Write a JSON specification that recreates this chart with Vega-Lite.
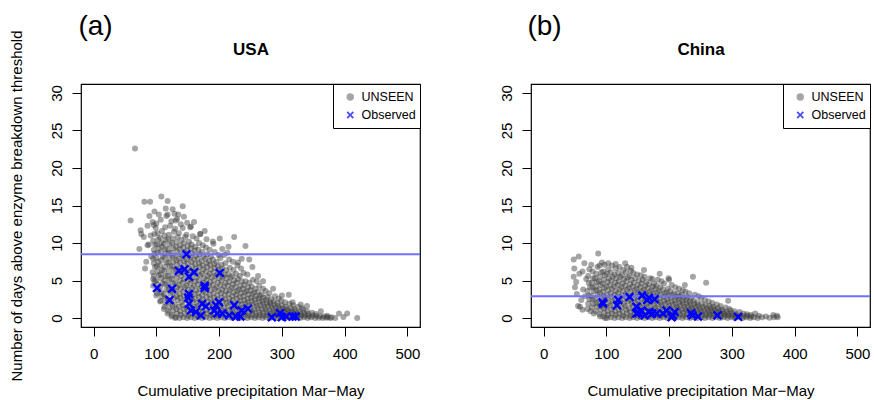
{
"$schema": "https://vega.github.io/schema/vega-lite/v6.json",
"background": "white",
"padding": {"left": 10, "top": 13, "right": 0, "bottom": 0},
"title": {"text": "Number of days above enzyme breakdown threshold", "orient": "left", "anchor": "middle", "fontSize": 15, "fontWeight": "normal", "offset": 23, "color": "black", "font": "Liberation Sans"},
"resolve": {"scale": {"color": "independent", "shape": "independent"}, "legend": {"color": "independent", "shape": "independent"}},
"config": {
 "font": "Liberation Sans",
 "view": {"stroke": "black", "strokeWidth": 1.2},
 "axis": {"grid": false, "domain": false, "tickColor": "black", "tickSize": 9, "tickWidth": 1, "labelFontSize": 15, "labelColor": "black", "titleFontSize": 15, "titleFontWeight": "normal", "titleColor": "black", "labelFlush": false, "labelOverlap": false},
 "axisX": {"labelPadding": 10, "titlePadding": 22},
 "axisY": {"labelPadding": 8, "labelAngle": -90},
 "legend": {"orient": "top-right", "offset": 0, "padding": 4, "strokeColor": "black", "fillColor": "white", "labelFontSize": 12.5, "labelColor": "black", "labelOffset": 5, "symbolOffset": 7, "clipHeight": 18, "rowPadding": 0, "symbolStrokeWidth": 0, "symbolSize": 55},
 "title": {"color": "black", "font": "Liberation Sans"},
 "concat": {"spacing": 76}
},
"datasets": {
 "usaSim": [
{"x":95,"UNSEEN":4.3},{"x":97,"UNSEEN":4.9},{"x":96,"UNSEEN":5.6},{"x":94,"UNSEEN":6.1},{"x":98,"UNSEEN":6.8},{"x":96,"UNSEEN":7.3},{"x":95,"UNSEEN":7.9},{"x":97,"UNSEEN":8.6},{"x":96,"UNSEEN":9.1},{"x":98,"UNSEEN":9.8},{"x":95,"UNSEEN":10.3},{"x":97,"UNSEEN":11.2},{"x":96,"UNSEEN":12.4},
{"x":101,"UNSEEN":3.3},{"x":103,"UNSEEN":3.8},{"x":102,"UNSEEN":4.5},{"x":100,"UNSEEN":5.0},{"x":104,"UNSEEN":5.7},{"x":102,"UNSEEN":6.2},{"x":101,"UNSEEN":6.9},{"x":103,"UNSEEN":7.5},{"x":100,"UNSEEN":8.0},{"x":102,"UNSEEN":8.7},{"x":104,"UNSEEN":9.3},{"x":101,"UNSEEN":9.8},{"x":103,"UNSEEN":10.5},{"x":102,"UNSEEN":11.3},{"x":100,"UNSEEN":12.6},
{"x":107,"UNSEEN":2.3},{"x":109,"UNSEEN":2.9},{"x":108,"UNSEEN":3.4},{"x":106,"UNSEEN":4.1},{"x":110,"UNSEEN":4.6},{"x":108,"UNSEEN":5.3},{"x":107,"UNSEEN":5.8},{"x":109,"UNSEEN":6.4},{"x":106,"UNSEEN":7.0},{"x":108,"UNSEEN":7.7},{"x":110,"UNSEEN":8.2},{"x":107,"UNSEEN":8.8},{"x":109,"UNSEEN":9.5},{"x":108,"UNSEEN":10.0},{"x":106,"UNSEEN":10.7},{"x":109,"UNSEEN":11.6},{"x":107,"UNSEEN":13.1},
{"x":113,"UNSEEN":1.5},{"x":115,"UNSEEN":2.0},{"x":114,"UNSEEN":2.7},{"x":112,"UNSEEN":3.2},{"x":116,"UNSEEN":3.8},{"x":114,"UNSEEN":4.5},{"x":113,"UNSEEN":5.0},{"x":115,"UNSEEN":5.6},{"x":112,"UNSEEN":6.3},{"x":114,"UNSEEN":6.8},{"x":116,"UNSEEN":7.4},{"x":113,"UNSEEN":8.1},{"x":115,"UNSEEN":8.6},{"x":114,"UNSEEN":9.2},{"x":112,"UNSEEN":9.9},{"x":115,"UNSEEN":10.4},{"x":113,"UNSEEN":11.0},{"x":114,"UNSEEN":12.1},{"x":116,"UNSEEN":13.6},
{"x":119,"UNSEEN":0.9},{"x":121,"UNSEEN":1.4},{"x":120,"UNSEEN":2.1},{"x":118,"UNSEEN":2.6},{"x":122,"UNSEEN":3.3},{"x":120,"UNSEEN":3.8},{"x":119,"UNSEEN":4.4},{"x":121,"UNSEEN":5.1},{"x":118,"UNSEEN":5.6},{"x":120,"UNSEEN":6.2},{"x":122,"UNSEEN":6.9},{"x":119,"UNSEEN":7.4},{"x":121,"UNSEEN":8.0},{"x":120,"UNSEEN":8.7},{"x":118,"UNSEEN":9.2},{"x":121,"UNSEEN":9.8},{"x":119,"UNSEEN":10.5},{"x":120,"UNSEEN":11.1},{"x":122,"UNSEEN":12.3},{"x":118,"UNSEEN":13.8},
{"x":125,"UNSEEN":0.4},{"x":127,"UNSEEN":1.0},{"x":126,"UNSEEN":1.6},{"x":124,"UNSEEN":2.2},{"x":128,"UNSEEN":2.7},{"x":126,"UNSEEN":3.4},{"x":125,"UNSEEN":3.9},{"x":127,"UNSEEN":4.6},{"x":124,"UNSEEN":5.2},{"x":126,"UNSEEN":5.7},{"x":128,"UNSEEN":6.4},{"x":125,"UNSEEN":6.9},{"x":127,"UNSEEN":7.5},{"x":126,"UNSEEN":8.2},{"x":124,"UNSEEN":8.7},{"x":127,"UNSEEN":9.3},{"x":125,"UNSEEN":10.0},{"x":126,"UNSEEN":10.6},{"x":128,"UNSEEN":11.5},{"x":124,"UNSEEN":12.9},
{"x":131,"UNSEEN":0.1},{"x":133,"UNSEEN":0.6},{"x":132,"UNSEEN":1.2},{"x":130,"UNSEEN":1.8},{"x":134,"UNSEEN":2.4},{"x":132,"UNSEEN":2.9},{"x":131,"UNSEEN":3.6},{"x":133,"UNSEEN":4.1},{"x":130,"UNSEEN":4.7},{"x":132,"UNSEEN":5.4},{"x":134,"UNSEEN":5.9},{"x":131,"UNSEEN":6.5},{"x":133,"UNSEEN":7.1},{"x":132,"UNSEEN":7.7},{"x":130,"UNSEEN":8.3},{"x":133,"UNSEEN":8.9},{"x":131,"UNSEEN":9.5},{"x":132,"UNSEEN":10.1},{"x":134,"UNSEEN":10.8},{"x":130,"UNSEEN":11.9},{"x":133,"UNSEEN":13.2},
{"x":137,"UNSEEN":0},{"x":139,"UNSEEN":0.4},{"x":138,"UNSEEN":0.9},{"x":136,"UNSEEN":1.5},{"x":140,"UNSEEN":2.1},{"x":138,"UNSEEN":2.7},{"x":137,"UNSEEN":3.2},{"x":139,"UNSEEN":3.9},{"x":136,"UNSEEN":4.4},{"x":138,"UNSEEN":5.0},{"x":140,"UNSEEN":5.6},{"x":137,"UNSEEN":6.2},{"x":139,"UNSEEN":6.7},{"x":138,"UNSEEN":7.4},{"x":136,"UNSEEN":7.9},{"x":139,"UNSEEN":8.5},{"x":137,"UNSEEN":9.2},{"x":138,"UNSEEN":9.7},{"x":140,"UNSEEN":10.4},{"x":136,"UNSEEN":11.3},{"x":139,"UNSEEN":12.5},
{"x":143,"UNSEEN":0.1},{"x":145,"UNSEEN":0.6},{"x":144,"UNSEEN":1.2},{"x":142,"UNSEEN":1.7},{"x":146,"UNSEEN":2.4},{"x":144,"UNSEEN":2.9},{"x":143,"UNSEEN":3.5},{"x":145,"UNSEEN":4.1},{"x":142,"UNSEEN":4.7},{"x":144,"UNSEEN":5.2},{"x":146,"UNSEEN":5.9},{"x":143,"UNSEEN":6.4},{"x":145,"UNSEEN":7.0},{"x":144,"UNSEEN":7.6},{"x":142,"UNSEEN":8.2},{"x":145,"UNSEEN":8.8},{"x":143,"UNSEEN":9.4},{"x":144,"UNSEEN":10.0},{"x":146,"UNSEEN":10.8},{"x":142,"UNSEEN":12.0},
{"x":149,"UNSEEN":0},{"x":151,"UNSEEN":0.3},{"x":150,"UNSEEN":0.9},{"x":148,"UNSEEN":1.4},{"x":152,"UNSEEN":2.0},{"x":150,"UNSEEN":2.6},{"x":149,"UNSEEN":3.1},{"x":151,"UNSEEN":3.8},{"x":148,"UNSEEN":4.3},{"x":150,"UNSEEN":4.9},{"x":152,"UNSEEN":5.5},{"x":149,"UNSEEN":6.1},{"x":151,"UNSEEN":6.6},{"x":150,"UNSEEN":7.3},{"x":148,"UNSEEN":7.8},{"x":151,"UNSEEN":8.4},{"x":149,"UNSEEN":9.0},{"x":150,"UNSEEN":9.6},{"x":152,"UNSEEN":10.2},{"x":148,"UNSEEN":11.1},
{"x":155,"UNSEEN":0.1},{"x":157,"UNSEEN":0.6},{"x":156,"UNSEEN":1.1},{"x":154,"UNSEEN":1.7},{"x":158,"UNSEEN":2.3},{"x":156,"UNSEEN":2.8},{"x":155,"UNSEEN":3.4},{"x":157,"UNSEEN":4.0},{"x":154,"UNSEEN":4.6},{"x":156,"UNSEEN":5.1},{"x":158,"UNSEEN":5.8},{"x":155,"UNSEEN":6.3},{"x":157,"UNSEEN":6.9},{"x":156,"UNSEEN":7.5},{"x":154,"UNSEEN":8.1},{"x":157,"UNSEEN":8.6},{"x":155,"UNSEEN":9.3},{"x":156,"UNSEEN":9.8},{"x":158,"UNSEEN":10.9},{"x":154,"UNSEEN":12.1},
{"x":161,"UNSEEN":0},{"x":163,"UNSEEN":0.4},{"x":162,"UNSEEN":0.9},{"x":160,"UNSEEN":1.5},{"x":164,"UNSEEN":2.0},{"x":162,"UNSEEN":2.6},{"x":161,"UNSEEN":3.2},{"x":163,"UNSEEN":3.7},{"x":160,"UNSEEN":4.3},{"x":162,"UNSEEN":4.9},{"x":164,"UNSEEN":5.4},{"x":161,"UNSEEN":6.1},{"x":163,"UNSEEN":6.6},{"x":162,"UNSEEN":7.2},{"x":160,"UNSEEN":7.8},{"x":163,"UNSEEN":8.3},{"x":161,"UNSEEN":9.0},{"x":162,"UNSEEN":9.5},{"x":164,"UNSEEN":10.6},
{"x":167,"UNSEEN":0.1},{"x":169,"UNSEEN":0.5},{"x":168,"UNSEEN":1.1},{"x":166,"UNSEEN":1.6},{"x":170,"UNSEEN":2.2},{"x":168,"UNSEEN":2.8},{"x":167,"UNSEEN":3.3},{"x":169,"UNSEEN":3.9},{"x":166,"UNSEEN":4.5},{"x":168,"UNSEEN":5.0},{"x":170,"UNSEEN":5.7},{"x":167,"UNSEEN":6.2},{"x":169,"UNSEEN":6.8},{"x":168,"UNSEEN":7.3},{"x":166,"UNSEEN":7.9},{"x":169,"UNSEEN":8.5},{"x":167,"UNSEEN":9.1},{"x":168,"UNSEEN":10.0},{"x":170,"UNSEEN":11.2},
{"x":173,"UNSEEN":0},{"x":175,"UNSEEN":0.3},{"x":174,"UNSEEN":0.8},{"x":172,"UNSEEN":1.4},{"x":176,"UNSEEN":1.9},{"x":174,"UNSEEN":2.5},{"x":173,"UNSEEN":3.0},{"x":175,"UNSEEN":3.6},{"x":172,"UNSEEN":4.2},{"x":174,"UNSEEN":4.7},{"x":176,"UNSEEN":5.3},{"x":173,"UNSEEN":5.9},{"x":175,"UNSEEN":6.5},{"x":174,"UNSEEN":7.0},{"x":172,"UNSEEN":7.6},{"x":175,"UNSEEN":8.2},{"x":173,"UNSEEN":8.8},{"x":174,"UNSEEN":9.7},
{"x":179,"UNSEEN":0.1},{"x":181,"UNSEEN":0.6},{"x":180,"UNSEEN":1.1},{"x":178,"UNSEEN":1.7},{"x":182,"UNSEEN":2.2},{"x":180,"UNSEEN":2.8},{"x":179,"UNSEEN":3.4},{"x":181,"UNSEEN":3.9},{"x":178,"UNSEEN":4.5},{"x":180,"UNSEEN":5.1},{"x":182,"UNSEEN":5.6},{"x":179,"UNSEEN":6.2},{"x":181,"UNSEEN":6.8},{"x":180,"UNSEEN":7.3},{"x":178,"UNSEEN":7.9},{"x":181,"UNSEEN":8.5},{"x":179,"UNSEEN":9.4},{"x":180,"UNSEEN":10.5},
{"x":185,"UNSEEN":0},{"x":187,"UNSEEN":0.4},{"x":186,"UNSEEN":0.9},{"x":184,"UNSEEN":1.5},{"x":188,"UNSEEN":2.0},{"x":186,"UNSEEN":2.6},{"x":185,"UNSEEN":3.1},{"x":187,"UNSEEN":3.7},{"x":184,"UNSEEN":4.3},{"x":186,"UNSEEN":4.8},{"x":188,"UNSEEN":5.4},{"x":185,"UNSEEN":5.9},{"x":187,"UNSEEN":6.5},{"x":186,"UNSEEN":7.1},{"x":184,"UNSEEN":7.6},{"x":187,"UNSEEN":8.2},{"x":185,"UNSEEN":9.1},
{"x":191,"UNSEEN":0.1},{"x":193,"UNSEEN":0.5},{"x":192,"UNSEEN":1.1},{"x":190,"UNSEEN":1.6},{"x":194,"UNSEEN":2.2},{"x":192,"UNSEEN":2.7},{"x":191,"UNSEEN":3.3},{"x":193,"UNSEEN":3.9},{"x":190,"UNSEEN":4.4},{"x":192,"UNSEEN":5.0},{"x":194,"UNSEEN":5.6},{"x":191,"UNSEEN":6.1},{"x":193,"UNSEEN":6.7},{"x":192,"UNSEEN":7.2},{"x":190,"UNSEEN":7.8},{"x":193,"UNSEEN":8.8},{"x":191,"UNSEEN":9.9},
{"x":197,"UNSEEN":0},{"x":199,"UNSEEN":0.3},{"x":198,"UNSEEN":0.8},{"x":196,"UNSEEN":1.4},{"x":200,"UNSEEN":1.9},{"x":198,"UNSEEN":2.5},{"x":197,"UNSEEN":3.0},{"x":199,"UNSEEN":3.6},{"x":196,"UNSEEN":4.1},{"x":198,"UNSEEN":4.7},{"x":200,"UNSEEN":5.3},{"x":197,"UNSEEN":5.8},{"x":199,"UNSEEN":6.4},{"x":198,"UNSEEN":6.9},{"x":196,"UNSEEN":7.5},{"x":199,"UNSEEN":8.4},
{"x":203,"UNSEEN":0.1},{"x":205,"UNSEEN":0.6},{"x":204,"UNSEEN":1.1},{"x":202,"UNSEEN":1.7},{"x":206,"UNSEEN":2.2},{"x":204,"UNSEEN":2.7},{"x":203,"UNSEEN":3.3},{"x":205,"UNSEEN":3.8},{"x":202,"UNSEEN":4.4},{"x":204,"UNSEEN":5.0},{"x":206,"UNSEEN":5.5},{"x":203,"UNSEEN":6.0},{"x":205,"UNSEEN":6.6},{"x":204,"UNSEEN":7.1},{"x":202,"UNSEEN":8.0},{"x":205,"UNSEEN":9.2},
{"x":209,"UNSEEN":0},{"x":211,"UNSEEN":0.4},{"x":210,"UNSEEN":0.9},{"x":208,"UNSEEN":1.4},{"x":212,"UNSEEN":2.0},{"x":210,"UNSEEN":2.5},{"x":209,"UNSEEN":3.1},{"x":211,"UNSEEN":3.6},{"x":208,"UNSEEN":4.2},{"x":210,"UNSEEN":4.7},{"x":212,"UNSEEN":5.3},{"x":209,"UNSEEN":5.8},{"x":211,"UNSEEN":6.4},{"x":210,"UNSEEN":7.3},{"x":208,"UNSEEN":8.4},
{"x":215,"UNSEEN":0.1},{"x":217,"UNSEEN":0.5},{"x":216,"UNSEEN":1.0},{"x":214,"UNSEEN":1.6},{"x":218,"UNSEEN":2.1},{"x":216,"UNSEEN":2.6},{"x":215,"UNSEEN":3.2},{"x":217,"UNSEEN":3.7},{"x":214,"UNSEEN":4.3},{"x":216,"UNSEEN":4.8},{"x":218,"UNSEEN":5.4},{"x":215,"UNSEEN":5.9},{"x":217,"UNSEEN":6.7},{"x":216,"UNSEEN":7.8},
{"x":221,"UNSEEN":0},{"x":223,"UNSEEN":0.3},{"x":222,"UNSEEN":0.8},{"x":220,"UNSEEN":1.3},{"x":224,"UNSEEN":1.8},{"x":222,"UNSEEN":2.4},{"x":221,"UNSEEN":2.9},{"x":223,"UNSEEN":3.4},{"x":220,"UNSEEN":4.0},{"x":222,"UNSEEN":4.5},{"x":224,"UNSEEN":5.0},{"x":221,"UNSEEN":5.6},{"x":223,"UNSEEN":6.4},{"x":222,"UNSEEN":7.5},
{"x":227,"UNSEEN":0.1},{"x":229,"UNSEEN":0.5},{"x":228,"UNSEEN":1.0},{"x":226,"UNSEEN":1.5},{"x":230,"UNSEEN":2.0},{"x":228,"UNSEEN":2.6},{"x":227,"UNSEEN":3.1},{"x":229,"UNSEEN":3.6},{"x":226,"UNSEEN":4.1},{"x":228,"UNSEEN":4.7},{"x":230,"UNSEEN":5.2},{"x":227,"UNSEEN":5.9},{"x":229,"UNSEEN":7.0},
{"x":233,"UNSEEN":0},{"x":235,"UNSEEN":0.3},{"x":234,"UNSEEN":0.8},{"x":232,"UNSEEN":1.3},{"x":236,"UNSEEN":1.8},{"x":234,"UNSEEN":2.3},{"x":233,"UNSEEN":2.8},{"x":235,"UNSEEN":3.3},{"x":232,"UNSEEN":3.8},{"x":234,"UNSEEN":4.3},{"x":236,"UNSEEN":4.9},{"x":233,"UNSEEN":5.6},{"x":235,"UNSEEN":6.6},
{"x":239,"UNSEEN":0.1},{"x":241,"UNSEEN":0.5},{"x":240,"UNSEEN":0.9},{"x":238,"UNSEEN":1.4},{"x":242,"UNSEEN":1.9},{"x":240,"UNSEEN":2.4},{"x":239,"UNSEEN":2.9},{"x":241,"UNSEEN":3.4},{"x":238,"UNSEEN":3.9},{"x":240,"UNSEEN":4.4},{"x":242,"UNSEEN":4.9},{"x":239,"UNSEEN":6.0},
{"x":245,"UNSEEN":0},{"x":247,"UNSEEN":0.3},{"x":246,"UNSEEN":0.7},{"x":244,"UNSEEN":1.2},{"x":248,"UNSEEN":1.7},{"x":246,"UNSEEN":2.1},{"x":245,"UNSEEN":2.6},{"x":247,"UNSEEN":3.1},{"x":244,"UNSEEN":3.6},{"x":246,"UNSEEN":4.1},{"x":248,"UNSEEN":4.7},{"x":245,"UNSEEN":5.8},
{"x":251,"UNSEEN":0.1},{"x":253,"UNSEEN":0.4},{"x":252,"UNSEEN":0.9},{"x":250,"UNSEEN":1.3},{"x":254,"UNSEEN":1.8},{"x":252,"UNSEEN":2.3},{"x":251,"UNSEEN":2.7},{"x":253,"UNSEEN":3.2},{"x":250,"UNSEEN":3.7},{"x":252,"UNSEEN":4.2},{"x":254,"UNSEEN":5.1},
{"x":257,"UNSEEN":0},{"x":259,"UNSEEN":0.3},{"x":258,"UNSEEN":0.7},{"x":256,"UNSEEN":1.1},{"x":260,"UNSEEN":1.6},{"x":258,"UNSEEN":2.0},{"x":257,"UNSEEN":2.5},{"x":259,"UNSEEN":2.9},{"x":256,"UNSEEN":3.4},{"x":258,"UNSEEN":3.9},{"x":260,"UNSEEN":4.9},
{"x":263,"UNSEEN":0.1},{"x":265,"UNSEEN":0.4},{"x":264,"UNSEEN":0.8},{"x":262,"UNSEEN":1.3},{"x":266,"UNSEEN":1.7},{"x":264,"UNSEEN":2.2},{"x":263,"UNSEEN":2.6},{"x":265,"UNSEEN":3.0},{"x":262,"UNSEEN":3.5},{"x":264,"UNSEEN":4.3},
{"x":269,"UNSEEN":0},{"x":271,"UNSEEN":0.3},{"x":270,"UNSEEN":0.7},{"x":268,"UNSEEN":1.1},{"x":272,"UNSEEN":1.5},{"x":270,"UNSEEN":1.9},{"x":269,"UNSEEN":2.3},{"x":271,"UNSEEN":2.7},{"x":268,"UNSEEN":3.1},{"x":270,"UNSEEN":3.9},
{"x":275,"UNSEEN":0.1},{"x":277,"UNSEEN":0.4},{"x":276,"UNSEEN":0.8},{"x":274,"UNSEEN":1.2},{"x":278,"UNSEEN":1.6},{"x":276,"UNSEEN":2.0},{"x":275,"UNSEEN":2.4},{"x":277,"UNSEEN":2.8},{"x":274,"UNSEEN":3.6},
{"x":281,"UNSEEN":0},{"x":283,"UNSEEN":0.3},{"x":282,"UNSEEN":0.6},{"x":280,"UNSEEN":1.0},{"x":284,"UNSEEN":1.4},{"x":282,"UNSEEN":1.8},{"x":281,"UNSEEN":2.1},{"x":283,"UNSEEN":2.5},{"x":280,"UNSEEN":3.3},
{"x":287,"UNSEEN":0.1},{"x":289,"UNSEEN":0.4},{"x":288,"UNSEEN":0.7},{"x":286,"UNSEEN":1.1},{"x":290,"UNSEEN":1.4},{"x":288,"UNSEEN":1.8},{"x":287,"UNSEEN":2.2},{"x":289,"UNSEEN":2.9},
{"x":293,"UNSEEN":0},{"x":295,"UNSEEN":0.3},{"x":294,"UNSEEN":0.6},{"x":292,"UNSEEN":0.9},{"x":296,"UNSEEN":1.3},{"x":294,"UNSEEN":1.6},{"x":293,"UNSEEN":2.0},{"x":295,"UNSEEN":2.6},
{"x":299,"UNSEEN":0.1},{"x":301,"UNSEEN":0.4},{"x":300,"UNSEEN":0.7},{"x":298,"UNSEEN":1.0},{"x":302,"UNSEEN":1.3},{"x":300,"UNSEEN":1.7},{"x":299,"UNSEEN":2.3},
{"x":305,"UNSEEN":0},{"x":307,"UNSEEN":0.3},{"x":306,"UNSEEN":0.6},{"x":304,"UNSEEN":0.9},{"x":308,"UNSEEN":1.2},{"x":306,"UNSEEN":1.5},{"x":305,"UNSEEN":2.1},
{"x":311,"UNSEEN":0.1},{"x":313,"UNSEEN":0.4},{"x":312,"UNSEEN":0.7},{"x":310,"UNSEEN":1.0},{"x":314,"UNSEEN":1.3},{"x":312,"UNSEEN":1.9},
{"x":317,"UNSEEN":0},{"x":319,"UNSEEN":0.3},{"x":318,"UNSEEN":0.6},{"x":316,"UNSEEN":0.9},{"x":320,"UNSEEN":1.2},{"x":318,"UNSEEN":1.7},
{"x":323,"UNSEEN":0.1},{"x":325,"UNSEEN":0.35},{"x":324,"UNSEEN":0.65},{"x":322,"UNSEEN":0.95},{"x":326,"UNSEEN":1.5},
{"x":329,"UNSEEN":0},{"x":331,"UNSEEN":0.3},{"x":330,"UNSEEN":0.55},{"x":328,"UNSEEN":0.85},{"x":332,"UNSEEN":1.3},
{"x":335,"UNSEEN":0.1},{"x":337,"UNSEEN":0.35},{"x":336,"UNSEEN":0.65},{"x":334,"UNSEEN":1.1},
{"x":341,"UNSEEN":0},{"x":343,"UNSEEN":0.25},{"x":342,"UNSEEN":0.55},{"x":340,"UNSEEN":0.9},
{"x":347,"UNSEEN":0.1},{"x":349,"UNSEEN":0.35},{"x":348,"UNSEEN":0.7},
{"x":353,"UNSEEN":0},{"x":355,"UNSEEN":0.3},{"x":354,"UNSEEN":0.55},
{"x":359,"UNSEEN":0.05},{"x":361,"UNSEEN":0.25},{"x":365,"UNSEEN":0},{"x":367,"UNSEEN":0.2},{"x":371,"UNSEEN":0.05},{"x":373,"UNSEEN":0.15},{"x":377,"UNSEEN":0},{"x":379,"UNSEEN":0.1},
{"x":59,"UNSEEN":13.0},{"x":66,"UNSEEN":22.6},{"x":73,"UNSEEN":9.2},{"x":75,"UNSEEN":11.7},{"x":76,"UNSEEN":11.2},{"x":80,"UNSEEN":10.8},{"x":81,"UNSEEN":15.5},{"x":82,"UNSEEN":6.6},{"x":90,"UNSEEN":15.5},{"x":86,"UNSEEN":12.3},{"x":88,"UNSEEN":9.8},{"x":92,"UNSEEN":8.2},{"x":97,"UNSEEN":14.2},{"x":94,"UNSEEN":12.8},{"x":108,"UNSEEN":16.2},{"x":118,"UNSEEN":15.6},{"x":126,"UNSEEN":14.5},{"x":129,"UNSEEN":13.9},{"x":142,"UNSEEN":14.9},{"x":131,"UNSEEN":13.0},{"x":144,"UNSEEN":13.5},{"x":149,"UNSEEN":12.7},{"x":160,"UNSEEN":12.8},{"x":177,"UNSEEN":11.6},{"x":201,"UNSEEN":10.6},{"x":224,"UNSEEN":10.8},{"x":213,"UNSEEN":8.7},{"x":236,"UNSEEN":7.9},{"x":248,"UNSEEN":7.8},{"x":253,"UNSEEN":6.8},{"x":242,"UNSEEN":9.6},{"x":311,"UNSEEN":3.1},{"x":317,"UNSEEN":2.1},{"x":391,"UNSEEN":0.6},{"x":404,"UNSEEN":0.6},{"x":420,"UNSEEN":0},{"x":385,"UNSEEN":0},{"x":372,"UNSEEN":0.3},{"x":398,"UNSEEN":0.15},{"x":362,"UNSEEN":0.9},{"x":340,"UNSEEN":1.6},{"x":330,"UNSEEN":1.8},{"x":300,"UNSEEN":3.0},{"x":286,"UNSEEN":3.9},{"x":270,"UNSEEN":4.9},{"x":262,"UNSEEN":5.6},{"x":230,"UNSEEN":7.4},{"x":215,"UNSEEN":9.5},{"x":190,"UNSEEN":10.2},{"x":170,"UNSEEN":11.2},{"x":155,"UNSEEN":12.2},{"x":135,"UNSEEN":13.8},{"x":115,"UNSEEN":14.6},{"x":104,"UNSEEN":13.8},{"x":99,"UNSEEN":12.0},{"x":84,"UNSEEN":7.5},{"x":95,"UNSEEN":5.2},{"x":100,"UNSEEN":3.0},{"x":106,"UNSEEN":2.2},{"x":112,"UNSEEN":1.2},{"x":118,"UNSEEN":0.6},{"x":124,"UNSEEN":0.2},{"x":130,"UNSEEN":0},{"x":86,"UNSEEN":9.7},{"x":91,"UNSEEN":11.0},{"x":89,"UNSEEN":13.6}
 ],
 "usaObs": [
{"x":101,"Observed":4.0},{"x":125,"Observed":3.9},{"x":121,"Observed":2.4},{"x":148,"Observed":8.5},{"x":136,"Observed":6.3},{"x":145,"Observed":6.5},{"x":152,"Observed":5.5},{"x":160,"Observed":6.1},{"x":201,"Observed":6.0},{"x":177,"Observed":4.3},{"x":177,"Observed":4.0},{"x":152,"Observed":3.2},{"x":151,"Observed":2.7},{"x":152,"Observed":1.9},{"x":155,"Observed":1.0},{"x":163,"Observed":0.8},{"x":171,"Observed":0.35},{"x":173,"Observed":1.9},{"x":179,"Observed":1.55},{"x":192,"Observed":1.0},{"x":195,"Observed":1.7},{"x":200,"Observed":2.1},{"x":197,"Observed":0.6},{"x":205,"Observed":0.6},{"x":216,"Observed":0.35},{"x":224,"Observed":1.7},{"x":227,"Observed":0.2},{"x":234,"Observed":0.2},{"x":236,"Observed":1.0},{"x":246,"Observed":1.25},{"x":284,"Observed":0.1},{"x":297,"Observed":0.65},{"x":300,"Observed":0.1},{"x":307,"Observed":0.2},{"x":317,"Observed":0.2},{"x":322,"Observed":0.2}
 ],
 "chnSim": [
{"x":71,"UNSEEN":1.9},{"x":73,"UNSEEN":2.5},{"x":72,"UNSEEN":3.0},{"x":70,"UNSEEN":3.6},{"x":74,"UNSEEN":4.1},{"x":72,"UNSEEN":4.7},{"x":71,"UNSEEN":5.6},{"x":73,"UNSEEN":6.5},
{"x":77,"UNSEEN":1.4},{"x":79,"UNSEEN":1.9},{"x":78,"UNSEEN":2.5},{"x":76,"UNSEEN":3.0},{"x":80,"UNSEEN":3.6},{"x":78,"UNSEEN":4.1},{"x":77,"UNSEEN":4.7},{"x":79,"UNSEEN":5.3},{"x":78,"UNSEEN":6.2},{"x":76,"UNSEEN":7.1},
{"x":83,"UNSEEN":0.9},{"x":85,"UNSEEN":1.5},{"x":84,"UNSEEN":2.0},{"x":82,"UNSEEN":2.6},{"x":86,"UNSEEN":3.1},{"x":84,"UNSEEN":3.7},{"x":83,"UNSEEN":4.2},{"x":85,"UNSEEN":4.8},{"x":82,"UNSEEN":5.3},{"x":84,"UNSEEN":5.9},{"x":86,"UNSEEN":6.8},
{"x":89,"UNSEEN":0.5},{"x":91,"UNSEEN":1.1},{"x":90,"UNSEEN":1.6},{"x":88,"UNSEEN":2.2},{"x":92,"UNSEEN":2.7},{"x":90,"UNSEEN":3.3},{"x":89,"UNSEEN":3.8},{"x":91,"UNSEEN":4.4},{"x":88,"UNSEEN":4.9},{"x":90,"UNSEEN":5.5},{"x":92,"UNSEEN":6.1},{"x":89,"UNSEEN":7.0},
{"x":95,"UNSEEN":0.2},{"x":97,"UNSEEN":0.7},{"x":96,"UNSEEN":1.3},{"x":94,"UNSEEN":1.8},{"x":98,"UNSEEN":2.4},{"x":96,"UNSEEN":2.9},{"x":95,"UNSEEN":3.5},{"x":97,"UNSEEN":4.0},{"x":94,"UNSEEN":4.6},{"x":96,"UNSEEN":5.1},{"x":98,"UNSEEN":5.7},{"x":95,"UNSEEN":6.2},{"x":97,"UNSEEN":7.1},
{"x":101,"UNSEEN":0},{"x":103,"UNSEEN":0.4},{"x":102,"UNSEEN":0.9},{"x":100,"UNSEEN":1.5},{"x":104,"UNSEEN":2.0},{"x":102,"UNSEEN":2.6},{"x":101,"UNSEEN":3.1},{"x":103,"UNSEEN":3.7},{"x":100,"UNSEEN":4.2},{"x":102,"UNSEEN":4.8},{"x":104,"UNSEEN":5.3},{"x":101,"UNSEEN":5.9},{"x":103,"UNSEEN":6.5},
{"x":107,"UNSEEN":0.1},{"x":109,"UNSEEN":0.6},{"x":108,"UNSEEN":1.1},{"x":106,"UNSEEN":1.7},{"x":110,"UNSEEN":2.2},{"x":108,"UNSEEN":2.8},{"x":107,"UNSEEN":3.3},{"x":109,"UNSEEN":3.9},{"x":106,"UNSEEN":4.4},{"x":108,"UNSEEN":5.0},{"x":110,"UNSEEN":5.5},{"x":107,"UNSEEN":6.1},{"x":109,"UNSEEN":7.0},
{"x":113,"UNSEEN":0},{"x":115,"UNSEEN":0.4},{"x":114,"UNSEEN":0.9},{"x":112,"UNSEEN":1.4},{"x":116,"UNSEEN":2.0},{"x":114,"UNSEEN":2.5},{"x":113,"UNSEEN":3.1},{"x":115,"UNSEEN":3.6},{"x":112,"UNSEEN":4.2},{"x":114,"UNSEEN":4.7},{"x":116,"UNSEEN":5.3},{"x":113,"UNSEEN":5.8},{"x":115,"UNSEEN":6.6},
{"x":119,"UNSEEN":0.1},{"x":121,"UNSEEN":0.6},{"x":120,"UNSEEN":1.1},{"x":118,"UNSEEN":1.7},{"x":122,"UNSEEN":2.2},{"x":120,"UNSEEN":2.8},{"x":119,"UNSEEN":3.3},{"x":121,"UNSEEN":3.8},{"x":118,"UNSEEN":4.4},{"x":120,"UNSEEN":4.9},{"x":122,"UNSEEN":5.5},{"x":119,"UNSEEN":6.0},{"x":121,"UNSEEN":6.8},
{"x":125,"UNSEEN":0},{"x":127,"UNSEEN":0.3},{"x":126,"UNSEEN":0.8},{"x":124,"UNSEEN":1.4},{"x":128,"UNSEEN":1.9},{"x":126,"UNSEEN":2.5},{"x":125,"UNSEEN":3.0},{"x":127,"UNSEEN":3.6},{"x":124,"UNSEEN":4.1},{"x":126,"UNSEEN":4.6},{"x":128,"UNSEEN":5.2},{"x":125,"UNSEEN":5.7},{"x":127,"UNSEEN":6.4},
{"x":131,"UNSEEN":0.1},{"x":133,"UNSEEN":0.6},{"x":132,"UNSEEN":1.1},{"x":130,"UNSEEN":1.6},{"x":134,"UNSEEN":2.2},{"x":132,"UNSEEN":2.7},{"x":131,"UNSEEN":3.2},{"x":133,"UNSEEN":3.8},{"x":130,"UNSEEN":4.3},{"x":132,"UNSEEN":4.9},{"x":134,"UNSEEN":5.4},{"x":131,"UNSEEN":6.1},{"x":133,"UNSEEN":6.8},
{"x":137,"UNSEEN":0},{"x":139,"UNSEEN":0.3},{"x":138,"UNSEEN":0.8},{"x":136,"UNSEEN":1.3},{"x":140,"UNSEEN":1.9},{"x":138,"UNSEEN":2.4},{"x":137,"UNSEEN":2.9},{"x":139,"UNSEEN":3.5},{"x":136,"UNSEEN":4.0},{"x":138,"UNSEEN":4.5},{"x":140,"UNSEEN":5.1},{"x":137,"UNSEEN":5.6},{"x":139,"UNSEEN":6.3},
{"x":143,"UNSEEN":0.1},{"x":145,"UNSEEN":0.5},{"x":144,"UNSEEN":1.0},{"x":142,"UNSEEN":1.6},{"x":146,"UNSEEN":2.1},{"x":144,"UNSEEN":2.6},{"x":143,"UNSEEN":3.1},{"x":145,"UNSEEN":3.7},{"x":142,"UNSEEN":4.2},{"x":144,"UNSEEN":4.7},{"x":146,"UNSEEN":5.3},{"x":143,"UNSEEN":6.0},
{"x":149,"UNSEEN":0},{"x":151,"UNSEEN":0.3},{"x":150,"UNSEEN":0.8},{"x":148,"UNSEEN":1.3},{"x":152,"UNSEEN":1.8},{"x":150,"UNSEEN":2.3},{"x":149,"UNSEEN":2.9},{"x":151,"UNSEEN":3.4},{"x":148,"UNSEEN":3.9},{"x":150,"UNSEEN":4.4},{"x":152,"UNSEEN":5.0},{"x":149,"UNSEEN":5.8},
{"x":155,"UNSEEN":0.1},{"x":157,"UNSEEN":0.5},{"x":156,"UNSEEN":1.0},{"x":154,"UNSEEN":1.5},{"x":158,"UNSEEN":2.0},{"x":156,"UNSEEN":2.6},{"x":155,"UNSEEN":3.1},{"x":157,"UNSEEN":3.6},{"x":154,"UNSEEN":4.1},{"x":156,"UNSEEN":4.6},{"x":158,"UNSEEN":5.1},{"x":155,"UNSEEN":5.7},
{"x":161,"UNSEEN":0},{"x":163,"UNSEEN":0.3},{"x":162,"UNSEEN":0.8},{"x":160,"UNSEEN":1.3},{"x":164,"UNSEEN":1.8},{"x":162,"UNSEEN":2.3},{"x":161,"UNSEEN":2.8},{"x":163,"UNSEEN":3.3},{"x":160,"UNSEEN":3.8},{"x":162,"UNSEEN":4.3},{"x":164,"UNSEEN":4.8},{"x":161,"UNSEEN":5.5},
{"x":167,"UNSEEN":0.1},{"x":169,"UNSEEN":0.5},{"x":168,"UNSEEN":1.0},{"x":166,"UNSEEN":1.5},{"x":170,"UNSEEN":2.0},{"x":168,"UNSEEN":2.5},{"x":167,"UNSEEN":3.0},{"x":169,"UNSEEN":3.5},{"x":166,"UNSEEN":4.0},{"x":168,"UNSEEN":4.5},{"x":170,"UNSEEN":5.3},
{"x":173,"UNSEEN":0},{"x":175,"UNSEEN":0.3},{"x":174,"UNSEEN":0.7},{"x":172,"UNSEEN":1.2},{"x":176,"UNSEEN":1.7},{"x":174,"UNSEEN":2.2},{"x":173,"UNSEEN":2.7},{"x":175,"UNSEEN":3.2},{"x":172,"UNSEEN":3.7},{"x":174,"UNSEEN":4.2},{"x":176,"UNSEEN":4.6},{"x":173,"UNSEEN":5.2},
{"x":179,"UNSEEN":0.1},{"x":181,"UNSEEN":0.5},{"x":180,"UNSEEN":1.0},{"x":178,"UNSEEN":1.4},{"x":182,"UNSEEN":1.9},{"x":180,"UNSEEN":2.4},{"x":179,"UNSEEN":2.9},{"x":181,"UNSEEN":3.4},{"x":178,"UNSEEN":3.9},{"x":180,"UNSEEN":4.3},{"x":182,"UNSEEN":5.1},
{"x":185,"UNSEEN":0},{"x":187,"UNSEEN":0.3},{"x":186,"UNSEEN":0.7},{"x":184,"UNSEEN":1.2},{"x":188,"UNSEEN":1.7},{"x":186,"UNSEEN":2.1},{"x":185,"UNSEEN":2.6},{"x":187,"UNSEEN":3.1},{"x":184,"UNSEEN":3.6},{"x":186,"UNSEEN":4.1},{"x":188,"UNSEEN":4.9},
{"x":191,"UNSEEN":0.1},{"x":193,"UNSEEN":0.5},{"x":192,"UNSEEN":0.9},{"x":190,"UNSEEN":1.4},{"x":194,"UNSEEN":1.9},{"x":192,"UNSEEN":2.3},{"x":191,"UNSEEN":2.8},{"x":193,"UNSEEN":3.3},{"x":190,"UNSEEN":3.8},{"x":192,"UNSEEN":4.6},
{"x":197,"UNSEEN":0},{"x":199,"UNSEEN":0.3},{"x":198,"UNSEEN":0.7},{"x":196,"UNSEEN":1.2},{"x":200,"UNSEEN":1.6},{"x":198,"UNSEEN":2.1},{"x":197,"UNSEEN":2.5},{"x":199,"UNSEEN":3.0},{"x":196,"UNSEEN":3.4},{"x":198,"UNSEEN":3.9},{"x":200,"UNSEEN":5.1},
{"x":203,"UNSEEN":0.1},{"x":205,"UNSEEN":0.5},{"x":204,"UNSEEN":0.9},{"x":202,"UNSEEN":1.3},{"x":206,"UNSEEN":1.8},{"x":204,"UNSEEN":2.2},{"x":203,"UNSEEN":2.7},{"x":205,"UNSEEN":3.1},{"x":202,"UNSEEN":3.6},{"x":204,"UNSEEN":4.4},
{"x":209,"UNSEEN":0},{"x":211,"UNSEEN":0.3},{"x":210,"UNSEEN":0.7},{"x":208,"UNSEEN":1.1},{"x":212,"UNSEEN":1.5},{"x":210,"UNSEEN":1.9},{"x":209,"UNSEEN":2.4},{"x":211,"UNSEEN":2.8},{"x":208,"UNSEEN":3.3},{"x":210,"UNSEEN":4.1},
{"x":215,"UNSEEN":0.1},{"x":217,"UNSEEN":0.5},{"x":216,"UNSEEN":0.9},{"x":214,"UNSEEN":1.3},{"x":218,"UNSEEN":1.7},{"x":216,"UNSEEN":2.1},{"x":215,"UNSEEN":2.5},{"x":217,"UNSEEN":2.9},{"x":214,"UNSEEN":3.3},{"x":216,"UNSEEN":3.9},
{"x":221,"UNSEEN":0},{"x":223,"UNSEEN":0.3},{"x":222,"UNSEEN":0.7},{"x":220,"UNSEEN":1.1},{"x":224,"UNSEEN":1.5},{"x":222,"UNSEEN":1.9},{"x":221,"UNSEEN":2.3},{"x":223,"UNSEEN":2.7},{"x":220,"UNSEEN":3.1},{"x":222,"UNSEEN":3.7},
{"x":227,"UNSEEN":0.1},{"x":229,"UNSEEN":0.5},{"x":228,"UNSEEN":0.9},{"x":226,"UNSEEN":1.2},{"x":230,"UNSEEN":1.6},{"x":228,"UNSEEN":2.0},{"x":227,"UNSEEN":2.4},{"x":229,"UNSEEN":2.8},{"x":226,"UNSEEN":3.5},
{"x":233,"UNSEEN":0},{"x":235,"UNSEEN":0.3},{"x":234,"UNSEEN":0.7},{"x":232,"UNSEEN":1.1},{"x":236,"UNSEEN":1.4},{"x":234,"UNSEEN":1.8},{"x":233,"UNSEEN":2.2},{"x":235,"UNSEEN":2.6},{"x":232,"UNSEEN":3.3},
{"x":239,"UNSEEN":0.1},{"x":241,"UNSEEN":0.4},{"x":240,"UNSEEN":0.8},{"x":238,"UNSEEN":1.2},{"x":242,"UNSEEN":1.5},{"x":240,"UNSEEN":1.9},{"x":239,"UNSEEN":2.3},{"x":241,"UNSEEN":3.1},{"x":238,"UNSEEN":5.5},
{"x":245,"UNSEEN":0},{"x":247,"UNSEEN":0.3},{"x":246,"UNSEEN":0.7},{"x":244,"UNSEEN":1.0},{"x":248,"UNSEEN":1.4},{"x":246,"UNSEEN":1.7},{"x":245,"UNSEEN":2.1},{"x":247,"UNSEEN":2.9},
{"x":251,"UNSEEN":0.1},{"x":253,"UNSEEN":0.4},{"x":252,"UNSEEN":0.8},{"x":250,"UNSEEN":1.1},{"x":254,"UNSEEN":1.5},{"x":252,"UNSEEN":1.9},{"x":251,"UNSEEN":2.7},
{"x":257,"UNSEEN":0},{"x":259,"UNSEEN":0.3},{"x":258,"UNSEEN":0.6},{"x":256,"UNSEEN":1.0},{"x":260,"UNSEEN":1.3},{"x":258,"UNSEEN":1.7},{"x":257,"UNSEEN":2.4},{"x":259,"UNSEEN":4.7},
{"x":263,"UNSEEN":0.1},{"x":265,"UNSEEN":0.4},{"x":264,"UNSEEN":0.7},{"x":262,"UNSEEN":1.0},{"x":266,"UNSEEN":1.3},{"x":264,"UNSEEN":1.6},{"x":263,"UNSEEN":2.2},
{"x":269,"UNSEEN":0},{"x":271,"UNSEEN":0.3},{"x":270,"UNSEEN":0.6},{"x":268,"UNSEEN":0.9},{"x":272,"UNSEEN":1.2},{"x":270,"UNSEEN":1.5},{"x":269,"UNSEEN":2.0},
{"x":275,"UNSEEN":0.1},{"x":277,"UNSEEN":0.4},{"x":276,"UNSEEN":0.7},{"x":274,"UNSEEN":1.0},{"x":278,"UNSEEN":1.3},{"x":276,"UNSEEN":1.8},
{"x":281,"UNSEEN":0},{"x":283,"UNSEEN":0.3},{"x":282,"UNSEEN":0.6},{"x":280,"UNSEEN":0.9},{"x":284,"UNSEEN":1.1},{"x":282,"UNSEEN":1.6},
{"x":287,"UNSEEN":0.1},{"x":289,"UNSEEN":0.35},{"x":288,"UNSEEN":0.6},{"x":286,"UNSEEN":0.9},{"x":290,"UNSEEN":1.4},
{"x":293,"UNSEEN":0},{"x":295,"UNSEEN":0.3},{"x":294,"UNSEEN":0.55},{"x":292,"UNSEEN":0.8},{"x":296,"UNSEEN":1.2},{"x":294,"UNSEEN":2.3},
{"x":299,"UNSEEN":0.1},{"x":301,"UNSEEN":0.3},{"x":300,"UNSEEN":0.6},{"x":298,"UNSEEN":1.0},
{"x":305,"UNSEEN":0},{"x":307,"UNSEEN":0.25},{"x":306,"UNSEEN":0.5},{"x":304,"UNSEEN":0.9},
{"x":311,"UNSEEN":0.1},{"x":313,"UNSEEN":0.35},{"x":312,"UNSEEN":0.8},
{"x":317,"UNSEEN":0},{"x":319,"UNSEEN":0.25},{"x":318,"UNSEEN":0.6},
{"x":323,"UNSEEN":0.1},{"x":325,"UNSEEN":0.3},{"x":324,"UNSEEN":0.5},
{"x":329,"UNSEEN":0},{"x":331,"UNSEEN":0.2},{"x":330,"UNSEEN":0.4},
{"x":335,"UNSEEN":0.1},{"x":337,"UNSEEN":0.6},{"x":341,"UNSEEN":0},{"x":343,"UNSEEN":0.3},
{"x":348,"UNSEEN":0.1},{"x":354,"UNSEEN":0.2},{"x":360,"UNSEEN":0.05},{"x":366,"UNSEEN":0.4},{"x":367,"UNSEEN":0.1},{"x":372,"UNSEEN":0.3},{"x":373,"UNSEEN":0.1},
{"x":48,"UNSEEN":7.8},{"x":56,"UNSEEN":8.2},{"x":49,"UNSEEN":6.6},{"x":48,"UNSEEN":5.5},{"x":52,"UNSEEN":4.8},{"x":50,"UNSEEN":4.1},{"x":53,"UNSEEN":3.2},{"x":55,"UNSEEN":1.6},{"x":58,"UNSEEN":1.5},{"x":60,"UNSEEN":2.4},{"x":62,"UNSEEN":6.2},{"x":65,"UNSEEN":7.3},{"x":57,"UNSEEN":5.9},{"x":63,"UNSEEN":3.8},{"x":66,"UNSEEN":2.9},{"x":68,"UNSEEN":5.2},{"x":70,"UNSEEN":1.2},{"x":75,"UNSEEN":0.9},{"x":80,"UNSEEN":0.6},{"x":87,"UNSEEN":8.6},{"x":93,"UNSEEN":7.4},{"x":103,"UNSEEN":7.3},{"x":115,"UNSEEN":7.2},{"x":130,"UNSEEN":7.3},{"x":140,"UNSEEN":6.7},{"x":160,"UNSEEN":6.4},{"x":185,"UNSEEN":5.9},{"x":199,"UNSEEN":5.3},{"x":225,"UNSEEN":4.4},{"x":90,"UNSEEN":0.2},{"x":98,"UNSEEN":0},{"x":62,"UNSEEN":1.1}
 ],
 "chnObs": [
{"x":94,"Observed":2.1},{"x":95,"Observed":1.9},{"x":119,"Observed":2.4},{"x":117,"Observed":1.7},{"x":137,"Observed":2.8},{"x":157,"Observed":3.0},{"x":168,"Observed":2.7},{"x":177,"Observed":2.5},{"x":148,"Observed":1.5},{"x":148,"Observed":0.6},{"x":156,"Observed":1.0},{"x":161,"Observed":0.35},{"x":168,"Observed":0.8},{"x":173,"Observed":0.6},{"x":180,"Observed":0.6},{"x":190,"Observed":0.6},{"x":196,"Observed":1.0},{"x":206,"Observed":0.35},{"x":209,"Observed":0.8},{"x":235,"Observed":0.65},{"x":237,"Observed":0.35},{"x":246,"Observed":0.2},{"x":277,"Observed":0.35},{"x":310,"Observed":0.15},{"x":204,"Observed":0.1},{"x":165,"Observed":2.4},{"x":151,"Observed":0.7}
 ]
},
"hconcat": [
 {
  "title": {"text": "(a)", "fontSize": 28, "fontWeight": "normal", "anchor": "start", "dx": 30, "offset": -2},
  "resolve": {"scale": {"color": "independent", "shape": "independent"}, "legend": {"color": "independent", "shape": "independent"}},
  "vconcat": [
   {
    "width": 339, "height": 243,
    "resolve": {"axis": {"x": "independent"}},
    "layer": [
     {
      "data": {"name": "usaSim"},
      "transform": [{"fold": ["UNSEEN"], "as": ["series", "days"]}],
      "mark": {"type": "point", "filled": true, "strokeWidth": 0, "size": 36},
      "encoding": {
       "x": {"field": "x", "type": "quantitative", "scale": {"domain": [-20, 520], "nice": false, "zero": false}, "axis": {"values": [0, 100, 200, 300, 400, 500], "title": "Cumulative precipitation Mar−May"}},
       "y": {"field": "days", "type": "quantitative", "scale": {"domain": [-1.2, 31.2], "nice": false, "zero": false}, "axis": {"values": [0, 5, 10, 15, 20, 25, 30], "title": null}},
       "color": {"field": "series", "type": "nominal", "scale": {"domain": ["UNSEEN", "Observed"], "range": ["rgba(60,60,60,0.66)", "#0000ff"]}, "legend": {"title": null}},
       "shape": {"field": "series", "type": "nominal", "scale": {"domain": ["UNSEEN", "Observed"], "range": ["circle", "M-1,-0.65L-0.65,-1L0,-0.35L0.65,-1L1,-0.65L0.35,0L1,0.65L0.65,1L0,0.35L-0.65,1L-1,0.65L-0.35,0Z"]}, "legend": {"title": null}}
      }
     },
     {
      "data": {"values": [{"days": 8.5}]},
      "mark": {"type": "rule", "color": "#7070ff", "strokeWidth": 1.8},
      "encoding": {"y": {"field": "days", "type": "quantitative"}}
     },
     {
      "data": {"name": "usaObs"},
      "transform": [{"fold": ["Observed"], "as": ["series", "days"]}],
      "mark": {"type": "point", "filled": true, "strokeWidth": 0, "size": 90, "opacity": 1},
      "encoding": {
       "x": {"field": "x", "type": "quantitative", "axis": {"orient": "top", "ticks": false, "labels": false, "domain": false, "title": "USA", "titleFontSize": 17, "titleFontWeight": "bold", "titlePadding": 26}},
       "y": {"field": "days", "type": "quantitative"},
       "color": {"field": "series", "type": "nominal", "legend": {"title": null}},
       "shape": {"field": "series", "type": "nominal", "legend": {"title": null}}
      }
     }
    ]
   }
  ]
 },
 {
  "title": {"text": "(b)", "fontSize": 28, "fontWeight": "normal", "anchor": "start", "dx": 29, "offset": -2},
  "resolve": {"scale": {"color": "independent", "shape": "independent"}, "legend": {"color": "independent", "shape": "independent"}},
  "vconcat": [
   {
    "width": 339, "height": 243,
    "resolve": {"axis": {"x": "independent"}},
    "layer": [
     {
      "data": {"name": "chnSim"},
      "transform": [{"fold": ["UNSEEN"], "as": ["series", "days"]}],
      "mark": {"type": "point", "filled": true, "strokeWidth": 0, "size": 36},
      "encoding": {
       "x": {"field": "x", "type": "quantitative", "scale": {"domain": [-20, 520], "nice": false, "zero": false}, "axis": {"values": [0, 100, 200, 300, 400, 500], "title": "Cumulative precipitation Mar−May"}},
       "y": {"field": "days", "type": "quantitative", "scale": {"domain": [-1.2, 31.2], "nice": false, "zero": false}, "axis": {"values": [0, 5, 10, 15, 20, 25, 30], "title": null}},
       "color": {"field": "series", "type": "nominal", "scale": {"domain": ["UNSEEN", "Observed"], "range": ["rgba(60,60,60,0.66)", "#0000ff"]}, "legend": {"title": null}},
       "shape": {"field": "series", "type": "nominal", "scale": {"domain": ["UNSEEN", "Observed"], "range": ["circle", "M-1,-0.65L-0.65,-1L0,-0.35L0.65,-1L1,-0.65L0.35,0L1,0.65L0.65,1L0,0.35L-0.65,1L-1,0.65L-0.35,0Z"]}, "legend": {"title": null}}
      }
     },
     {
      "data": {"values": [{"days": 2.9}]},
      "mark": {"type": "rule", "color": "#7070ff", "strokeWidth": 1.8},
      "encoding": {"y": {"field": "days", "type": "quantitative"}}
     },
     {
      "data": {"name": "chnObs"},
      "transform": [{"fold": ["Observed"], "as": ["series", "days"]}],
      "mark": {"type": "point", "filled": true, "strokeWidth": 0, "size": 90, "opacity": 1},
      "encoding": {
       "x": {"field": "x", "type": "quantitative", "axis": {"orient": "top", "ticks": false, "labels": false, "domain": false, "title": "China", "titleFontSize": 17, "titleFontWeight": "bold", "titlePadding": 26}},
       "y": {"field": "days", "type": "quantitative"},
       "color": {"field": "series", "type": "nominal", "legend": {"title": null}},
       "shape": {"field": "series", "type": "nominal", "legend": {"title": null}}
      }
     }
    ]
   }
  ]
 }
]
}
